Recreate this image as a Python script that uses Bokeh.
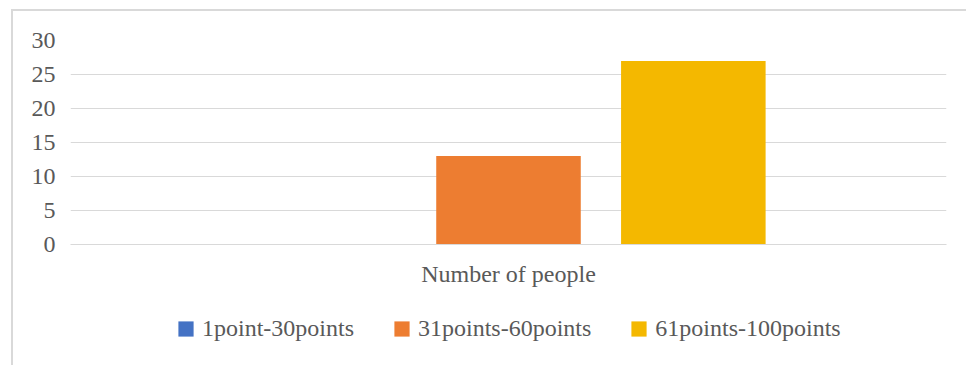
from bokeh.plotting import figure
from bokeh.layouts import column
from bokeh.models import FactorRange, Legend, LegendItem, ColumnDataSource, FixedTicker
from bokeh.transform import dodge
from bokeh.embed import file_html
from bokeh.resources import INLINE

categories = ["Number of people"]
series_names = ["1point-30points", "31points-60points", "61points-100points"]
series_values = [0, 13, 27]
series_colors = ["#4472C4", "#ED7D31", "#F4B800"]
y_ticks = [0, 5, 10, 15, 20, 25, 30]

offsets = [-0.211, 0.0, 0.211]
bar_width = 0.165
FONT = "Liberation Serif"
FS = "24px"
TEXT = "#595959"
GRID = "#d9d9d9"

# page offsets of the outer chart border (top/left visible)
OX, OY = 13, 11
W = 966 - OX
H_TOP = 290 - OY
H_LEG = 365 - OY - H_TOP

p = figure(width=W, height=H_TOP,
           x_range=FactorRange(*categories, range_padding=0),
           y_range=(0, 30),
           output_backend="svg", toolbar_location=None,
           min_border_left=70 - OX, min_border_right=(966 - 946),
           min_border_top=40 - OY, min_border_bottom=H_TOP - (244 - OY))

for name, val, col, off in zip(series_names, series_values, series_colors, offsets):
    src = ColumnDataSource(dict(cat=categories, v=[val]))
    p.vbar(x=dodge("cat", off, range=p.x_range), top="v", width=bar_width,
           source=src, fill_color=col, line_color=None)

p.outline_line_color = None
p.background_fill_color = "white"
p.border_fill_color = "white"

p.xgrid.grid_line_color = None
p.ygrid.grid_line_color = GRID
p.ygrid.grid_line_width = 1
p.yaxis.ticker = FixedTicker(ticks=y_ticks)

p.yaxis.axis_line_color = None
p.yaxis.major_tick_line_color = None
p.yaxis.minor_tick_line_color = None
p.yaxis.major_label_text_font = FONT
p.yaxis.major_label_text_font_size = FS
p.yaxis.major_label_text_color = TEXT
p.yaxis.major_label_standoff = 9

p.xaxis.axis_line_color = GRID
p.xaxis.major_tick_line_color = None
p.xaxis.minor_tick_line_color = None
p.xaxis.major_label_text_font = FONT
p.xaxis.major_label_text_font_size = FS
p.xaxis.major_label_text_color = TEXT
p.xaxis.major_label_standoff = 10

# legend strip (its own small figure; the legend's renderers are hidden)
q = figure(width=W, height=H_LEG, x_range=FactorRange(*categories, range_padding=0),
           y_range=(0, 30), output_backend="svg", toolbar_location=None,
           x_axis_location=None, y_axis_location=None, min_border=0)
q.grid.visible = False
q.outline_line_color = None
q.background_fill_color = "white"
q.border_fill_color = "white"

items = []
for name, val, col, off in zip(series_names, series_values, series_colors, offsets):
    src = ColumnDataSource(dict(cat=categories, v=[val]))
    r = q.vbar(x=dodge("cat", off, range=q.x_range), top="v", width=bar_width,
               source=src, fill_color=col, line_color=None, visible=False)
    items.append(LegendItem(label=name, renderers=[r]))

legend = Legend(items=items, orientation="horizontal", location=(106, 23),
                label_text_font=FONT, label_text_font_size=FS,
                label_text_color=TEXT, glyph_width=19, glyph_height=19,
                label_standoff=7, spacing=38, border_line_color=None,
                background_fill_alpha=0, margin=0, padding=0)
q.add_layout(legend, "center")

layout = column(p, q, spacing=0)
layout.styles = {"border-left": "2px solid #d9d9d9", "border-top": "2px solid #d9d9d9",
                 "margin-left": f"{OX-2}px", "margin-top": f"{OY-2}px"}

open("out.html", "w").write(file_html(layout, INLINE))
